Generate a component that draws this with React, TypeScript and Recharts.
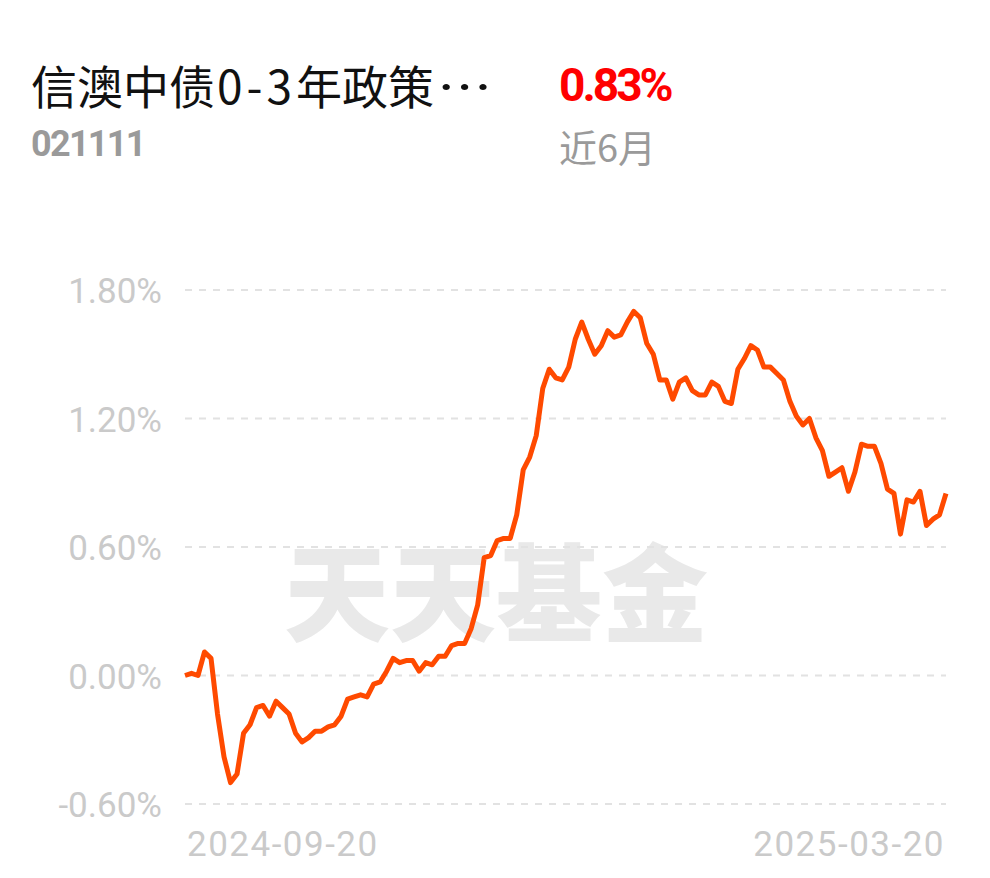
import { LineChart, Line, XAxis, YAxis, CartesianGrid } from 'recharts';

const FUND_NAME = '信澳中债0-3年政策…';
const FUND_CODE = '021111';
const RETURN_LABEL = '0.83%';
const PERIOD_LABEL = '近6月';
const WATERMARK = '天天基金';

const DATE_LABELS = ['2024-09-20', '2025-03-20'];
const Y_TICKS = [-0.6, 0, 0.6, 1.2, 1.8];

// cumulative return, %
const RETURNS = [
    0.00, 0.01, 0.00, 0.11, 0.08, -0.18, -0.38, -0.50, -0.46, -0.27,
    -0.23, -0.15, -0.14, -0.19, -0.12, -0.15, -0.18, -0.27, -0.31, -0.29,
    -0.26, -0.26, -0.24, -0.23, -0.19, -0.11, -0.10, -0.09, -0.10, -0.04,
    -0.03, 0.02, 0.08, 0.06, 0.07, 0.07, 0.02, 0.06, 0.05, 0.09,
    0.09, 0.14, 0.15, 0.15, 0.22, 0.33, 0.55, 0.56, 0.63, 0.64,
    0.64, 0.75, 0.96, 1.02, 1.12, 1.34, 1.43, 1.39, 1.38, 1.44,
    1.57, 1.65, 1.57, 1.50, 1.54, 1.61, 1.58, 1.59, 1.65, 1.70,
    1.67, 1.55, 1.50, 1.38, 1.38, 1.29, 1.37, 1.39, 1.33, 1.31,
    1.31, 1.37, 1.35, 1.28, 1.27, 1.43, 1.48, 1.54, 1.52, 1.44,
    1.44, 1.41, 1.38, 1.28, 1.21, 1.17, 1.20, 1.11, 1.05, 0.93,
    0.95, 0.97, 0.86, 0.95, 1.08, 1.07, 1.07, 0.99, 0.87, 0.85,
    0.66, 0.82, 0.81, 0.86, 0.70, 0.73, 0.75, 0.85,
];

const data = RETURNS.map((value, i) => ({ i, value }));
const last = RETURNS.length - 1;

// digits and the ellipsis are set a little wider than the CJK font gives them
function Title({ text }: { text: string }) {
    const parts = text.split(/([0-9\-]+|…)/).filter(Boolean);
    return (
        <>
            {parts.map((p, k) => {
                if (p === '…') {
                    return (
                        <span key={k} style={{ display: 'inline-block', transform: 'scaleX(1.2)', transformOrigin: 'left', marginLeft: 3 }}>
                            {p}
                        </span>
                    );
                }
                if (/^[0-9\-]+$/.test(p)) {
                    return (
                        <span key={k} style={{ letterSpacing: 4, marginLeft: 2 }}>
                            {p}
                        </span>
                    );
                }
                return <span key={k}>{p}</span>;
            })}
        </>
    );
}

const DateTick = (props: any) => {
    const { x, y, payload } = props;
    const isFirst = payload.value === 0;
    return (
        <text
            x={isFirst ? x + 2 : x - 1}
            y={y}
            dy={44}
            textAnchor={isFirst ? 'start' : 'end'}
            fill="#cacaca"
            fontSize={35}
            letterSpacing={1.5}
            fontFamily="Roboto, sans-serif"
        >
            {isFirst ? DATE_LABELS[0] : DATE_LABELS[1]}
        </text>
    );
};

export default function App() {
    return (
        <div style={{ position: 'absolute', left: 0, top: 0, width: 990, height: 878, background: '#fff', overflow: 'hidden' }}>
            <div style={{ position: 'absolute', left: 31, top: 58, fontSize: 46, lineHeight: '52px', color: '#111', fontFamily: '"Noto Sans CJK SC", sans-serif', whiteSpace: 'nowrap' }}>
                <Title text={FUND_NAME} />
            </div>
            <div style={{ position: 'absolute', left: 559, top: 60, fontSize: 46, lineHeight: '50px', color: '#f00', fontWeight: 700, fontFamily: 'Roboto, sans-serif', letterSpacing: -3 }}>
                {RETURN_LABEL}
            </div>
            <div style={{ position: 'absolute', left: 31, top: 124, fontSize: 36, lineHeight: '40px', color: '#9a9a9a', fontWeight: 700, fontFamily: 'Roboto, sans-serif', letterSpacing: -1.7 }}>
                {FUND_CODE}
            </div>
            <div style={{ position: 'absolute', left: 559, top: 124, fontSize: 38, lineHeight: '44px', color: '#9a9a9a', fontFamily: '"Noto Sans CJK SC", sans-serif' }}>
                {PERIOD_LABEL}
            </div>
            <div style={{ position: 'absolute', left: 284, top: 527, fontSize: 106, lineHeight: '120px', color: '#e9e9e9', fontWeight: 900, fontFamily: '"Noto Sans CJK SC", sans-serif', whiteSpace: 'nowrap' }}>
                {WATERMARK}
            </div>
            <div style={{ position: 'absolute', left: 0, top: 0 }}>
                <LineChart width={990} height={878} data={data} margin={{ top: 290, right: 44, bottom: 14, left: 0 }}>
                    <CartesianGrid vertical={false} stroke="#e2e2e2" strokeWidth={2} strokeDasharray="7 7" />
                    <XAxis
                        dataKey="i"
                        type="number"
                        domain={[0, last]}
                        ticks={[0, last]}
                        tick={<DateTick />}
                        tickLine={false}
                        axisLine={false}
                        height={60}
                        interval={0}
                    />
                    <YAxis
                        domain={[-0.6, 1.8]}
                        ticks={Y_TICKS}
                        tickFormatter={(v: number) => `${v.toFixed(2)}%`}
                        tick={{ fill: '#cacaca', fontSize: 35, fontFamily: 'Roboto, sans-serif', dy: 1 }}
                        tickLine={false}
                        axisLine={false}
                        tickSize={0}
                        tickMargin={23}
                        width={185}
                    />
                    <Line
                        type="linear"
                        dataKey="value"
                        stroke="#ff4a00"
                        strokeWidth={5}
                        dot={false}
                        strokeLinejoin="round"
                        isAnimationActive={false}
                    />
                </LineChart>
            </div>
        </div>
    );
}
